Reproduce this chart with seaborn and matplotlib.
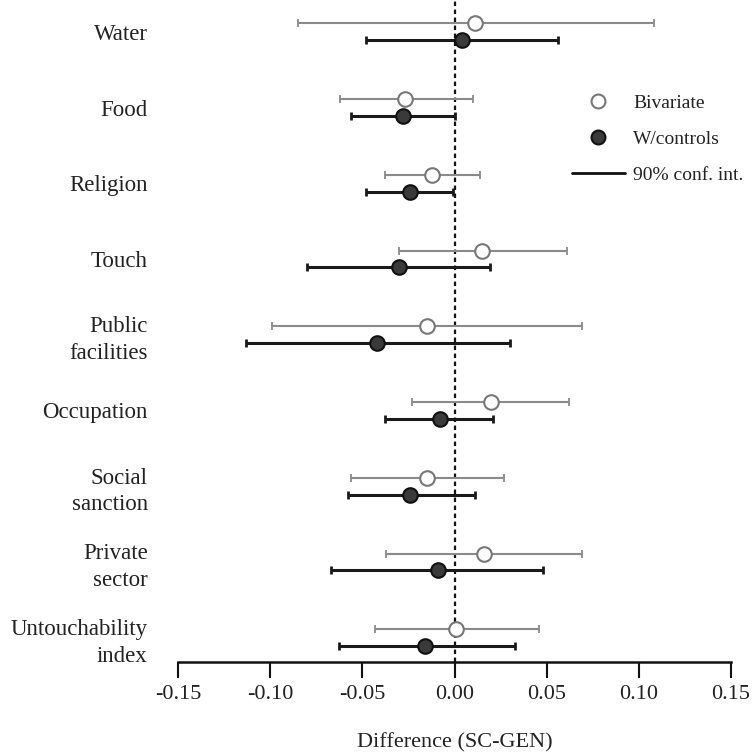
import numpy as np
import pandas as pd
import matplotlib
matplotlib.use("Agg")
import matplotlib.pyplot as plt
import seaborn as sns
from matplotlib.lines import Line2D

# data
categories = ["Water", "Food", "Religion", "Touch", "Public\nfacilities",
              "Occupation", "Social\nsanction", "Private\nsector",
              "Untouchability\nindex"]
biv_est = [0.011, -0.027, -0.012, 0.015, -0.015, 0.0195, -0.015, 0.016, 0.001]
biv_lo = [-0.085, -0.062, -0.038, -0.030, -0.099, -0.023, -0.056, -0.037, -0.043]
biv_hi = [0.108, 0.010, 0.014, 0.061, 0.069, 0.062, 0.027, 0.069, 0.046]
ctl_est = [0.004, -0.028, -0.024, -0.030, -0.042, -0.008, -0.024, -0.009, -0.016]
ctl_lo = [-0.048, -0.056, -0.048, -0.080, -0.113, -0.038, -0.058, -0.067, -0.063]
ctl_hi = [0.056, 0.0, -0.001, 0.019, 0.030, 0.021, 0.011, 0.048, 0.033]
xticks = [-0.15, -0.10, -0.05, 0.00, 0.05, 0.10, 0.15]

sns.set_theme(style="white")
plt.rcParams['font.family'] = ['Liberation Serif', 'DejaVu Serif']
plt.rcParams['text.color'] = '#222222'

pos = np.arange(len(categories))
off = 0.11
df_b = pd.DataFrame({"y": pos - off, "est": biv_est, "lo": biv_lo, "hi": biv_hi})
df_c = pd.DataFrame({"y": pos + off, "est": ctl_est, "lo": ctl_lo, "hi": ctl_hi})

fig = plt.figure(figsize=(7.52, 7.53), dpi=100)
ax = fig.add_axes([0.237, 0.121, 0.735, 0.879])

ax.axvline(0, color='#111111', lw=1.6, ls=(0, (2, 1.6)), zorder=1)

# confidence intervals
ax.errorbar(df_b["est"], df_b["y"], xerr=[df_b["est"] - df_b["lo"], df_b["hi"] - df_b["est"]],
            fmt='none', ecolor='#8a8a8a', elinewidth=1.5, capsize=3, capthick=1.3, zorder=2)
ax.errorbar(df_c["est"], df_c["y"], xerr=[df_c["est"] - df_c["lo"], df_c["hi"] - df_c["est"]],
            fmt='none', ecolor='#1a1a1a', elinewidth=2.2, capsize=3, capthick=2, zorder=2)

# point estimates
sns.scatterplot(data=df_b, x="est", y="y", ax=ax, s=110, color='white',
                edgecolor='#777777', linewidth=1.5, zorder=3)
sns.scatterplot(data=df_c, x="est", y="y", ax=ax, s=110, color='#3a3a3a',
                edgecolor='#111111', linewidth=1.5, zorder=3)

ax.set_xlim(-0.15, 0.15)
ax.set_ylim(8.32, -0.42)
ax.set_yticks(pos)
ax.set_yticklabels(categories, fontsize=16.5, multialignment='right', linespacing=1.35)
ax.set_xticks(xticks)
ax.set_xticklabels([f"{t:.2f}" for t in xticks], fontsize=16)
ax.tick_params(axis='y', length=0, pad=22)
ax.tick_params(axis='x', length=11.5, width=1.5, direction='out', bottom=True, pad=5, colors='#111111')
for lab in ax.get_xticklabels() + ax.get_yticklabels():
    lab.set_color('#222222')
ax.set_xlabel("Difference (SC-GEN)", fontsize=16, labelpad=21, color='#222222')
ax.set_ylabel("")

for s in ['left', 'top', 'right']:
    ax.spines[s].set_visible(False)
ax.spines['bottom'].set_linewidth(1.8)
ax.spines['bottom'].set_color('#111111')

handles = [
    Line2D([], [], ls='none', marker='o', markersize=10, markerfacecolor='white',
           markeredgecolor='#777777', markeredgewidth=1.5),
    Line2D([], [], ls='none', marker='o', markersize=10, markerfacecolor='#3a3a3a',
           markeredgecolor='#111111', markeredgewidth=1.5),
    Line2D([], [], color='#111111', lw=2),
]
fig.legend(handles, ["Bivariate", "W/controls", "90% conf. int."], loc='upper left',
           bbox_to_anchor=(572 / 752, 1 - 94 / 753), frameon=False, fontsize=14,
           handlelength=2.7, handletextpad=0.45, labelspacing=0.95,
           borderpad=0, borderaxespad=0)

fig.savefig("out.png", dpi=100)
